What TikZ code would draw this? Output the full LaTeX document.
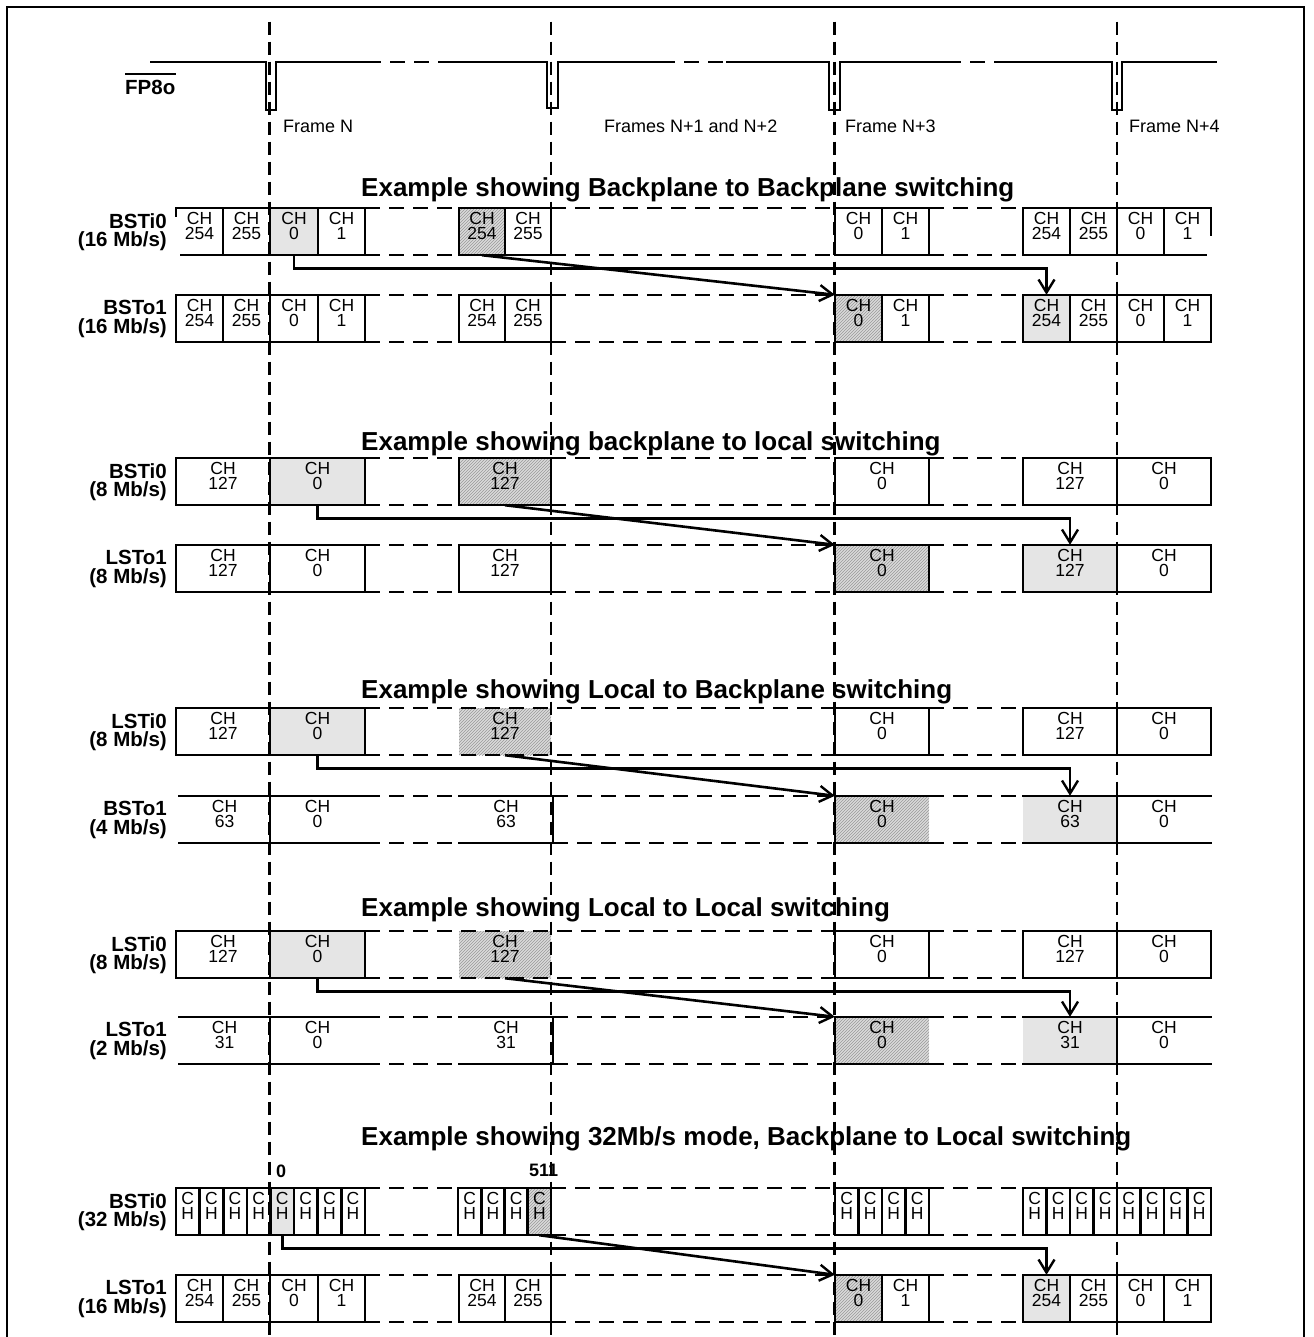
\documentclass[tikz,border=0pt]{standalone}
\usepackage{fontspec}
\setmainfont{Liberation Sans}
\usetikzlibrary{arrows.meta,patterns}
\newcommand\mkcell[6][]{%
  \node[cellbox,#1,minimum width={(#4)-(#3)}] (#2) at ({((#3)+(#4))/2},{(#5)+23.5}) {};
  \node[celltext] (#2t) at ([yshift=-4.5pt]#2.north) {#6};}
\newcommand\hsol[3]{\draw[rowline] (#1,#3) -- (#2,#3) (#1,#3+47) -- (#2,#3+47);}
\newcommand\hdas[3]{\draw[rowdash] (#1,#3) -- (#2,#3) (#1,#3+47) -- (#2,#3+47);}
\newcommand\vsol[2]{\foreach \xx in {#1} {\draw[rowline] (\xx,#2) -- (\xx,#2+47);}}
% 16 Mb/s row: prefix, ytop, styles of cells 3,5,7,9
\newcommand\rowXVI[6]{%
  \mkcell{#11}{176}{223}{#2}{CH\\254}%
  \mkcell{#12}{223}{270}{#2}{CH\\255}%
  \mkcell[#3]{#13}{270}{318}{#2}{CH\\0}%
  \mkcell{#14}{318}{365}{#2}{CH\\1}%
  \mkcell[#4]{#15}{459}{505}{#2}{CH\\254}%
  \mkcell{#16}{505}{551}{#2}{CH\\255}%
  \mkcell[#5]{#17}{835}{882}{#2}{CH\\0}%
  \mkcell{#18}{882}{929}{#2}{CH\\1}%
  \mkcell[#6]{#19}{1023}{1070}{#2}{CH\\254}%
  \mkcell{#1x}{1070}{1117}{#2}{CH\\255}%
  \mkcell{#1y}{1117}{1164}{#2}{CH\\0}%
  \mkcell{#1z}{1164}{1211}{#2}{CH\\1}}
% 8 Mb/s row: prefix, ytop, styles of cells 2,3,4,5
\newcommand\rowVIII[6]{%
  \mkcell{#11}{176}{270}{#2}{CH\\127}%
  \mkcell[#3]{#12}{270}{365}{#2}{CH\\0}%
  \mkcell[#4]{#13}{459}{551}{#2}{CH\\127}%
  \mkcell[#5]{#14}{835}{929}{#2}{CH\\0}%
  \mkcell[#6]{#15}{1023}{1117}{#2}{CH\\127}%
  \mkcell{#16}{1117}{1211}{#2}{CH\\0}}
% slow row: prefix, ytop, last channel
\newcommand\rowslow[3]{%
  \mkcell{#11}{179}{270}{#2}{CH\\#3}%
  \mkcell{#12}{270}{365}{#2}{CH\\0}%
  \mkcell{#13}{459}{553}{#2}{CH\\#3}%
  \mkcell[hatchcell]{#14}{835}{929}{#2}{CH\\0}%
  \mkcell[graycell]{#15}{1023}{1117}{#2}{CH\\#3}%
  \mkcell{#16}{1117}{1211}{#2}{CH\\0}%
  \hsol{179}{365}{#2}\hsol{459}{553}{#2}\hsol{835}{929}{#2}\hsol{1023}{1211}{#2}%
  \hdas{365}{459}{#2}\hdas{553}{835}{#2}\hdas{929}{1023}{#2}%
  \vsol{270,553,835,1117}{#2}}
\newcommand\linesXVI[1]{%
  \hsol{176}{365}{#1}\hsol{459}{551}{#1}\hsol{835}{929}{#1}\hsol{1023}{1211}{#1}%
  \hdas{365}{459}{#1}\hdas{551}{835}{#1}\hdas{929}{1023}{#1}%
  \vsol{176,223,270,318,365,459,505,551,835,882,929,1023,1070,1117,1164,1211}{#1}}
\newcommand\linesVIII[1]{%
  \hsol{176}{365}{#1}\hsol{459}{551}{#1}\hsol{835}{929}{#1}\hsol{1023}{1211}{#1}%
  \hdas{365}{459}{#1}\hdas{551}{835}{#1}\hdas{929}{1023}{#1}%
  \vsol{176,270,365,459,551,835,929,1023,1117,1211}{#1}}
\newcommand\linesLocIn[1]{%
  \hsol{176}{365}{#1}\hsol{835}{929}{#1}\hsol{1023}{1211}{#1}%
  \hdas{365}{835}{#1}\hdas{929}{1023}{#1}%
  \vsol{176,270,365,835,929,1023,1117,1211}{#1}}
\begin{document}
\begin{tikzpicture}[x=1pt,y=-1pt,
  rowline/.style={line width=2.6pt,line cap=rect},
  rowdash/.style={line width=2.6pt,dash pattern=on 15pt off 9pt},
  framedash/.style={line width=2.2pt,dash pattern=on 13pt off 7pt},
  sig/.style={line width=2.4pt},
  sigdash/.style={line width=2.4pt,dash pattern=on 15pt off 9pt},
  cellbox/.style={rectangle,inner sep=0pt,minimum height=47pt,draw=none},
  celltext/.style={anchor=north,inner sep=0pt,align=center,font=\fontsize{17.5}{15}\selectfont},
  graycell/.style={fill=black!10},
  hatchcell/.style={preaction={fill=black!14},pattern=north east lines,pattern color=black!40},
  title/.style={anchor=base west,inner sep=0pt,font=\fontsize{26}{30}\selectfont\bfseries},
  lbl/.style={anchor=north east,inner sep=0pt,align=right,font=\fontsize{20.5}{18.5}\selectfont\bfseries},
  flbl/.style={anchor=base west,inner sep=0pt,font=\fontsize{18}{20}\selectfont},
  conn/.style={line width=2.6pt,-{Straight Barb[length=13pt,width=16pt,line width=2.4pt]}},
]
\fill[white] (0,0) rectangle (1313,1337);
\useasboundingbox (0,0) rectangle (1313,1337);
\draw[line width=2.4pt] (7,1345) -- (7,7) -- (1304,7) -- (1304,1345);

% ---------- section 1
\rowXVI{s1i}{208}{graycell}{hatchcell}{}{}
\rowXVI{s1o}{295}{}{}{hatchcell}{graycell}
\draw[rowline] (176,208) -- (365,208) (459,208) -- (551,208) (835,208) -- (929,208) (1023,208) -- (1211,208);
\draw[rowline] (181,255) -- (365,255) (459,255) -- (551,255) (835,255) -- (929,255) (1023,255) -- (1206,255);
\draw[rowdash] (365,208) -- (459,208) (365,255) -- (459,255) (551,208) -- (835,208) (551,255) -- (835,255) (929,208) -- (1023,208) (929,255) -- (1023,255);
\vsol{223,270,318,365,459,505,551,835,882,929,1023,1070,1117,1164}{208}
\draw[rowline] (176,208) -- (176,216) (1211,208) -- (1211,235);
\linesXVI{295}

% ---------- section 2
\rowVIII{s2i}{458}{graycell}{hatchcell}{}{}
\rowVIII{s2o}{545}{}{}{hatchcell}{graycell}
\linesVIII{458}
\linesVIII{545}

% ---------- section 3
\rowVIII{s3i}{708}{graycell}{hatchcell}{}{}
\linesLocIn{708}
\rowslow{s3o}{796}{63}

% ---------- section 4
\rowVIII{s4i}{931}{graycell}{hatchcell}{}{}
\linesLocIn{931}
\rowslow{s4o}{1017}{31}

% ---------- section 5
\foreach \k/\st in {0/{},1/{},2/{},3/{},4/graycell,5/{},6/{},7/{}}
  {\mkcell[\st]{s5a\k}{176+23.6*\k}{176+23.6*(\k+1)}{1188}{C\\H}}
\foreach \k/\st in {0/{},1/{},2/{},3/hatchcell}
  {\mkcell[\st]{s5b\k}{458+23.25*\k}{458+23.25*(\k+1)}{1188}{C\\H}}
\foreach \k in {0,...,3}
  {\mkcell{s5c\k}{835+23.5*\k}{835+23.5*(\k+1)}{1188}{C\\H}}
\foreach \k in {0,...,7}
  {\mkcell{s5d\k}{1023+23.5*\k}{1023+23.5*(\k+1)}{1188}{C\\H}}
\hsol{176}{365}{1188}\hsol{458}{551}{1188}\hsol{835}{929}{1188}\hsol{1023}{1211}{1188}
\hdas{365}{458}{1188}\hdas{551}{835}{1188}\hdas{929}{1023}{1188}
\vsol{176,199.6,223.2,246.8,270.4,294,317.6,341.2,364.8,458,481.25,504.5,527.75,551,835,858.5,882,905.5,929,1023,1046.5,1070,1093.5,1117,1140.5,1164,1187.5,1211}{1188}
\rowXVI{s5o}{1275}{}{}{hatchcell}{graycell}
\linesXVI{1275}

% ---------- frame boundaries
\foreach \x in {269.5,551,834.5,1117} \draw[framedash] (\x,21.7) -- (\x,1337);

% ---------- FP8o signal
\draw[sig] (150,62.3) -- (266,62.3) -- (266,110) -- (276,110) -- (276,62.3) -- (366,62.3);
\draw[sigdash] (366,62.3) -- (446,62.3);
\draw[sig] (446,62.3) -- (547,62.3) -- (547,108.3) -- (558,108.3) -- (558,62.3) -- (660,62.3);
\draw[sigdash] (660,62.3) -- (726,62.3);
\draw[sig] (726,62.3) -- (829,62.3) -- (829,110) -- (840,110) -- (840,62.3) -- (946,62.3);
\draw[sigdash] (946,62.3) -- (1009,62.3);
\draw[sig] (1009,62.3) -- (1112,62.3) -- (1112,110) -- (1122,110) -- (1122,62.3) -- (1217,62.3);
\node[anchor=base west,inner sep=0pt,font=\fontsize{20.5}{22}\selectfont\bfseries] (fp) at (125,95) {FP8o};
\draw[line width=2.2pt] (fp.west |- 0,74) -- (fp.east |- 0,74);

\node[flbl] (fN) at (283,132.3) {Frame N};
\node[flbl] (fN12) at (604,132.3) {Frames N+1 and N+2};
\node[flbl] (fN3) at (845,132.3) {Frame N+3};
\node[flbl] (fN4) at (1129,132.3) {Frame N+4};

% ---------- titles
\node[title] (t1) at (361,196.7) {Example showing Backplane to Backplane switching};
\node[title] (t2) at (361,450) {Example showing backplane to local switching};
\node[title] (t3) at (361,698.3) {Example showing Local to Backplane switching};
\node[title] (t4) at (361,916.7) {Example showing Local to Local switching};
\node[title] (t5) at (361,1145) {Example showing 32Mb/s mode, Backplane to Local switching};

% ---------- row labels
\node[lbl] (l1i) at (167,213) {BSTi0\\(16 Mb/s)};
\node[lbl] (l1o) at (167,300) {BSTo1\\(16 Mb/s)};
\node[lbl] (l2i) at (167,463) {BSTi0\\(8 Mb/s)};
\node[lbl] (l2o) at (167,550) {LSTo1\\(8 Mb/s)};
\node[lbl] (l3i) at (167,713) {LSTi0\\(8 Mb/s)};
\node[lbl] (l3o) at (167,801) {BSTo1\\(4 Mb/s)};
\node[lbl] (l4i) at (167,936) {LSTi0\\(8 Mb/s)};
\node[lbl] (l4o) at (167,1022) {LSTo1\\(2 Mb/s)};
\node[lbl] (l5i) at (167,1193) {BSTi0\\(32 Mb/s)};
\node[lbl] (l5o) at (167,1280) {LSTo1\\(16 Mb/s)};
\node[anchor=base west,inner sep=0pt,font=\fontsize{18}{20}\selectfont\bfseries] (n0) at (276,1177) {0};
\node[anchor=base west,inner sep=0pt,font=\fontsize{18}{20}\selectfont\bfseries] (n511) at (529,1176.5) {511};

% ---------- connectors
\draw[conn] (s1i3.south) -- ++(0,13.5) -| (s1o9.north);
\draw[conn] (s1i5.south) -- (s1o7.north west);
\draw[conn] (s2i2.south) -- ++(0,13.5) -| (s2o5.north);
\draw[conn] (s2i3.south) -- (s2o4.north west);
\draw[conn] (s3i2.south) -- ++(0,13.5) -| (s3o5.north);
\draw[conn] (s3i3.south) -- (s3o4.north west);
\draw[conn] (s4i2.south) -- ++(0,13.5) -| (s4o5.north);
\draw[conn] (s4i3.south) -- (s4o4.north west);
\draw[conn] (s5a4.south) -- ++(0,13.5) -| (s5o9.north);
\draw[conn] (s5b3.south) -- (s5o7.north west);
\end{tikzpicture}
\end{document}
